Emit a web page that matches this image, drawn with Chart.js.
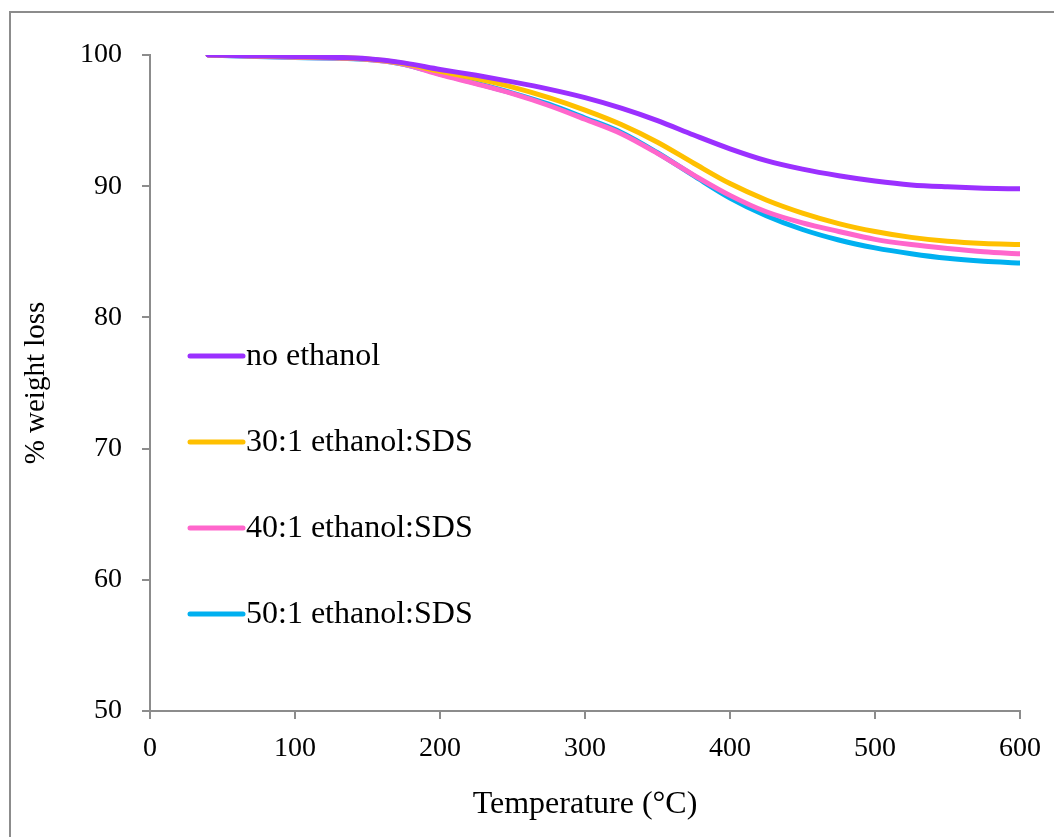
<!DOCTYPE html>
<html>
<head>
<meta charset="utf-8">
<script src="https://cdn.jsdelivr.net/npm/chart.js@4.4.1/dist/chart.umd.min.js"></script>
<style>
  html, body { margin: 0; padding: 0; background: #fff; }
  #wrap { width: 1054px; height: 837px; position: relative; }
</style>
</head>
<body>
<div id="wrap"><canvas id="tga"></canvas></div>
<script>
// temperature (°C) and % weight for each sample
const temps = [40, 100, 150, 175, 200, 225, 250, 275, 300, 325, 350, 375, 400, 425, 450, 475, 500, 525, 550, 575, 600];
const noEthanol = [100, 99.88, 99.72, 99.4, 98.9, 98.45, 97.95, 97.4, 96.75, 95.95, 95.0, 93.9, 92.85, 91.95, 91.3, 90.8, 90.4, 90.1, 89.95, 89.85, 89.8];
const ratio30 = [100, 99.86, 99.7, 99.35, 98.75, 98.2, 97.55, 96.75, 95.8, 94.7, 93.35, 91.75, 90.2, 88.95, 87.95, 87.15, 86.55, 86.1, 85.8, 85.63, 85.55];
const ratio40 = [100, 99.82, 99.66, 99.3, 98.5, 97.8, 97.05, 96.15, 95.1, 94.0, 92.5, 90.85, 89.3, 88.05, 87.2, 86.55, 85.95, 85.55, 85.25, 85.0, 84.85];
const ratio50 = [100, 99.8, 99.66, 99.3, 98.55, 97.85, 97.1, 96.25, 95.2, 94.1, 92.55, 90.8, 89.1, 87.75, 86.7, 85.9, 85.3, 84.85, 84.5, 84.28, 84.15];

const labels = ['no ethanol', '30:1 ethanol:SDS', '40:1 ethanol:SDS', '50:1 ethanol:SDS'];
const colors = ['#9b30ff', '#ffc000', '#ff66cc', '#00b0f0'];
const series = [noEthanol, ratio30, ratio40, ratio50];

const xTicks = [0, 100, 200, 300, 400, 500, 600];
const yTicks = [50, 60, 70, 80, 90, 100];

const axisGray = '#8c8c8c';
const serif = '"Liberation Serif", "Times New Roman", serif';

// draw the pale outer frame of the figure
const framePlugin = {
  id: 'frame',
  beforeDraw(chart) {
    const c = chart.ctx;
    c.save();
    c.strokeStyle = '#8c8c8c';
    c.lineWidth = 2;
    c.beginPath();
    c.moveTo(10, chart.height);
    c.lineTo(10, 12);
    c.lineTo(chart.width, 12);
    c.stroke();
    c.restore();
  }
};

// legend sits inside the plot, one entry per row with wide spacing
const legendPlugin = {
  id: 'insideLegend',
  afterDraw(chart) {
    const c = chart.ctx;
    const x0 = 190, x1 = 243;
    const yStart = 356, step = 86;
    c.save();
    c.font = '32px ' + serif;
    c.textBaseline = 'middle';
    c.textAlign = 'left';
    chart.data.datasets.forEach((ds, i) => {
      const y = yStart + i * step;
      c.strokeStyle = ds.borderColor;
      c.lineWidth = 5;
      c.lineCap = 'round';
      c.beginPath();
      c.moveTo(x0, y);
      c.lineTo(x1, y);
      c.stroke();
      c.fillStyle = '#000';
      c.fillText(ds.label, x1 + 3, y + 1);
    });
    c.restore();
  }
};

const ctx = document.getElementById('tga').getContext('2d');

const data = {
  datasets: series.map((s, i) => ({
    label: labels[i],
    data: temps.map((t, j) => ({ x: t, y: s[j] })),
    borderColor: colors[i],
    backgroundColor: colors[i],
    borderWidth: 5,
    pointRadius: 0,
    cubicInterpolationMode: 'monotone',
    borderCapStyle: 'round',
    fill: false
  }))
};

const config = {
  type: 'line',
  data: data,
  plugins: [framePlugin, legendPlugin],
  options: {
    responsive: true,
    maintainAspectRatio: false,
    animation: false,
    layout: {
      padding: { left: 10, right: 26, top: 55, bottom: 0 }
    },
    plugins: {
      legend: { display: false },
      tooltip: { enabled: false }
    },
    scales: {
      x: {
        type: 'linear',
        min: 0,
        max: 600,
        afterBuildTicks: (scale) => { scale.ticks = xTicks.map(v => ({ value: v })); },
        afterFit: (scale) => { scale.height = 126; },
        grid: { drawOnChartArea: false, drawTicks: true, tickLength: 8, color: axisGray, lineWidth: 2 },
        border: { display: true, color: axisGray, width: 2 },
        ticks: { color: '#000', padding: 13, font: { family: serif, size: 28 } },
        title: {
          display: true,
          text: 'Temperature (°C)',
          color: '#000',
          font: { family: serif, size: 32 },
          padding: { top: 0, bottom: 13 }
        }
      },
      y: {
        min: 50,
        max: 100,
        afterBuildTicks: (scale) => { scale.ticks = yTicks.map(v => ({ value: v })); },
        afterFit: (scale) => { scale.width = 140; },
        grid: { drawOnChartArea: false, drawTicks: true, tickLength: 8, color: axisGray, lineWidth: 2 },
        border: { display: true, color: axisGray, width: 2 },
        ticks: { color: '#000', padding: 20, font: { family: serif, size: 28 } },
        title: {
          display: true,
          text: '% weight loss',
          color: '#000',
          font: { family: serif, size: 29 },
          padding: { top: 9, bottom: 0 }
        }
      }
    }
  }
};

const tgaChart = new Chart(ctx, config);
</script>
</body>
</html>
